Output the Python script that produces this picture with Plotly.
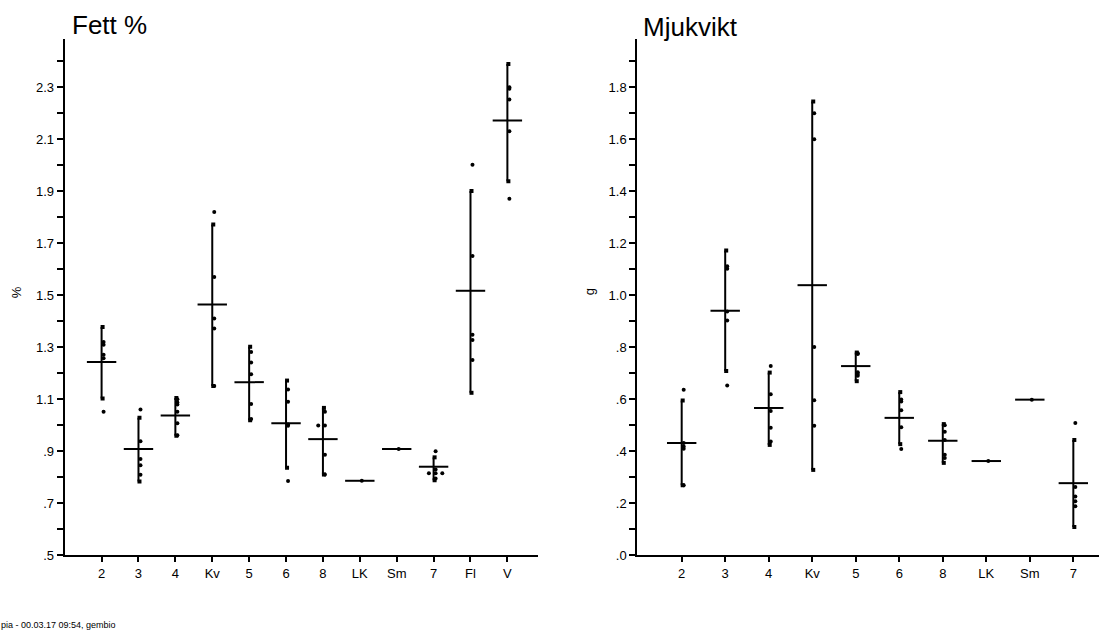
import plotly.graph_objects as go

# ---- Fett % ----
cats_fett = ["2", "3", "4", "Kv", "5", "6", "8", "LK", "Sm", "7", "Fl", "V"]
mean_fett = [1.243, 0.909, 1.038, 1.464, 1.166, 1.008, 0.947, 0.787, 0.909, 0.841, 1.517, 2.171]
lo_fett = [1.103, 0.784, 0.960, 1.151, 1.020, 0.837, 0.811, None, None, 0.789, 1.125, 1.938]
hi_fett = [1.378, 1.029, 1.105, 1.772, 1.302, 1.172, 1.067, None, None, 0.877, 1.900, 2.388]
obs_fett = [
    [1.320, 1.310, 1.271, 1.258, 1.052],
    [1.061, 0.939, 0.871, 0.847, 0.810],
    [1.100, 1.088, 1.080, 1.052, 1.008, 0.962],
    [1.820, 1.570, 1.410, 1.372, 1.151],
    [1.282, 1.241, 1.196, 1.082, 1.024],
    [1.138, 1.091, 1.003, 0.998, 0.786],
    [1.052, 0.999, 0.999, 0.887, 0.811],
    [0.787],
    [0.909],
    [0.900, 0.830, 0.816, 0.816, 0.816, 0.796],
    [2.001, 1.651, 1.348, 1.328, 1.251],
    [2.299, 2.293, 2.252, 2.130, 1.871],
]

# ---- Mjukvikt ----
cats_mjuk = ["2", "3", "4", "Kv", "5", "6", "8", "LK", "Sm", "7"]
mean_mjuk = [0.432, 0.941, 0.567, 1.039, 0.728, 0.529, 0.441, 0.363, 0.599, 0.278]
lo_mjuk = [0.270, 0.709, 0.425, 0.329, 0.670, 0.428, 0.356, None, None, 0.109]
hi_mjuk = [0.596, 1.172, 0.703, 1.745, 0.780, 0.628, 0.505, None, None, 0.444]
obs_mjuk = [
    [0.637, 0.432, 0.419, 0.410, 0.270],
    [1.112, 1.102, 0.938, 0.903, 0.653],
    [0.728, 0.620, 0.555, 0.491, 0.438],
    [1.700, 1.600, 0.801, 0.597, 0.499],
    [0.777, 0.774, 0.704, 0.698, 0.691],
    [0.600, 0.592, 0.558, 0.493, 0.409],
    [0.501, 0.476, 0.444, 0.387, 0.375],
    [0.363],
    [0.599],
    [0.509, 0.263, 0.227, 0.208, 0.189],
]

W, H = 1099, 641
FONT = "Liberation Sans, Arial, sans-serif"

# plot areas in pixels: (left, right, top, bottom)
box_fett = (64.7, 538.0, 39.3, 562.5)
box_mjuk = (637.3, 1099.0, 39.3, 562.5)
xr_fett = [0.0, 12.83]
xr_mjuk = [-0.02, 10.59]
yr_fett = [0.5, 2.485]
yr_mjuk = [0.0, 1.986]


def dom_x(b):
    return [b[0] / W, b[1] / W]


def dom_y(b):
    return [(H - b[3]) / H, (H - b[2]) / H]


def spread(values, ppu, base_px=2.0, step_px=6.7, tol=0.002):
    """Horizontal offsets (axis units) for the dots of one group;
    coincident values are placed side by side."""
    used = [False] * len(values)
    res = [0.0] * len(values)
    for i, v in enumerate(values):
        if used[i]:
            continue
        idx = [j for j, w in enumerate(values) if not used[j] and abs(w - v) <= tol]
        k = len(idx)
        for n, j in enumerate(idx):
            used[j] = True
            px = base_px if k == 1 else base_px + step_px * (n - 1)
            res[j] = px / ppu
    return res


def fmt(v):
    s = f"{v:.1f}"
    return s[1:] if s.startswith("0") else s


def add_panel(fig, cats, mean, lo, hi, obs, box, xr, xa, ya):
    ppu = (box[1] - box[0]) / (xr[1] - xr[0])
    pos = list(range(1, len(cats) + 1))
    # range bars with small end caps
    bx, by, cx, cy = [], [], [], []
    for p, a, b in zip(pos, lo, hi):
        if a is None:
            continue
        bx += [p, p, None]
        by += [a, b, None]
        cx += [p + 1.0 / ppu, p + 1.0 / ppu]
        cy += [a, b]
    fig.add_trace(go.Scatter(x=bx, y=by, mode="lines", xaxis=xa, yaxis=ya,
                             line=dict(color="black", width=2), hoverinfo="skip"))
    fig.add_trace(go.Scatter(x=cx, y=cy, mode="markers", xaxis=xa, yaxis=ya,
                             marker=dict(symbol="square", size=4, color="black"),
                             hoverinfo="skip"))
    # group means
    fig.add_trace(go.Scatter(x=pos, y=mean, mode="markers", xaxis=xa, yaxis=ya,
                             marker=dict(symbol="line-ew", size=21,
                                         line=dict(color="black", width=2))))
    # individual observations
    px, py = [], []
    for p, vals in zip(pos, obs):
        for v, o in zip(vals, spread(vals, ppu)):
            px.append(p + o)
            py.append(v)
    fig.add_trace(go.Scatter(x=px, y=py, mode="markers", xaxis=xa, yaxis=ya,
                             marker=dict(symbol="circle", size=4, color="black")))


fig = go.Figure()
add_panel(fig, cats_fett, mean_fett, lo_fett, hi_fett, obs_fett, box_fett, xr_fett, "x", "y")
add_panel(fig, cats_mjuk, mean_mjuk, lo_mjuk, hi_mjuk, obs_mjuk, box_mjuk, xr_mjuk, "x2", "y2")

yt_fett = [round(0.5 + 0.1 * i, 1) for i in range(20)]
yt_mjuk = [round(0.1 * i, 1) for i in range(20)]


def ytext(vals, first):
    return [fmt(v) if round((v - first) * 10) % 2 == 0 else "" for v in vals]


common_x = dict(showline=True, linewidth=2, linecolor="black", ticks="outside",
                ticklen=5, tickwidth=1.5, tickcolor="black", showgrid=False,
                zeroline=False, tickfont=dict(family=FONT, size=13, color="black"),
                tickmode="array", fixedrange=True)
common_y = dict(showline=True, linewidth=2, linecolor="black", ticks="outside",
                ticklen=6, tickwidth=1.5, tickcolor="black", showgrid=False,
                zeroline=False, tickfont=dict(family=FONT, size=13, color="black"),
                tickmode="array", fixedrange=True)

fig.update_layout(
    width=W, height=H, margin=dict(l=0, r=0, t=0, b=0),
    paper_bgcolor="white", plot_bgcolor="white", showlegend=False,
    font=dict(family=FONT, color="black"),
    xaxis=dict(common_x, domain=dom_x(box_fett), range=xr_fett, anchor="y",
               tickvals=list(range(1, len(cats_fett) + 1)), ticktext=cats_fett),
    yaxis=dict(common_y, domain=dom_y(box_fett), range=yr_fett, anchor="x",
               tickvals=yt_fett, ticktext=ytext(yt_fett, 0.5)),
    xaxis2=dict(common_x, domain=dom_x(box_mjuk), range=xr_mjuk, anchor="y2",
                tickvals=list(range(1, len(cats_mjuk) + 1)), ticktext=cats_mjuk),
    yaxis2=dict(common_y, domain=dom_y(box_mjuk), range=yr_mjuk, anchor="x2",
                tickvals=yt_mjuk, ticktext=ytext(yt_mjuk, 0.0)),
)


def ann(text, x_px, y_px, size, xanchor="left", angle=0):
    fig.add_annotation(text=text, x=x_px / W, y=1 - y_px / H, xref="paper", yref="paper",
                       xanchor=xanchor, yanchor="middle", showarrow=False,
                       textangle=angle, font=dict(family=FONT, size=size, color="black"))


ann("Fett %", 70, 25, 26)
ann("Mjukvikt", 641, 27, 26)
ann("%", 16, 296, 13, xanchor="center", angle=-90)
ann("g", 589, 296, 13, xanchor="center", angle=-90)
ann("pia - 00.03.17 09:54, gembio", -1, 633, 9)

fig.write_html("out.html")
